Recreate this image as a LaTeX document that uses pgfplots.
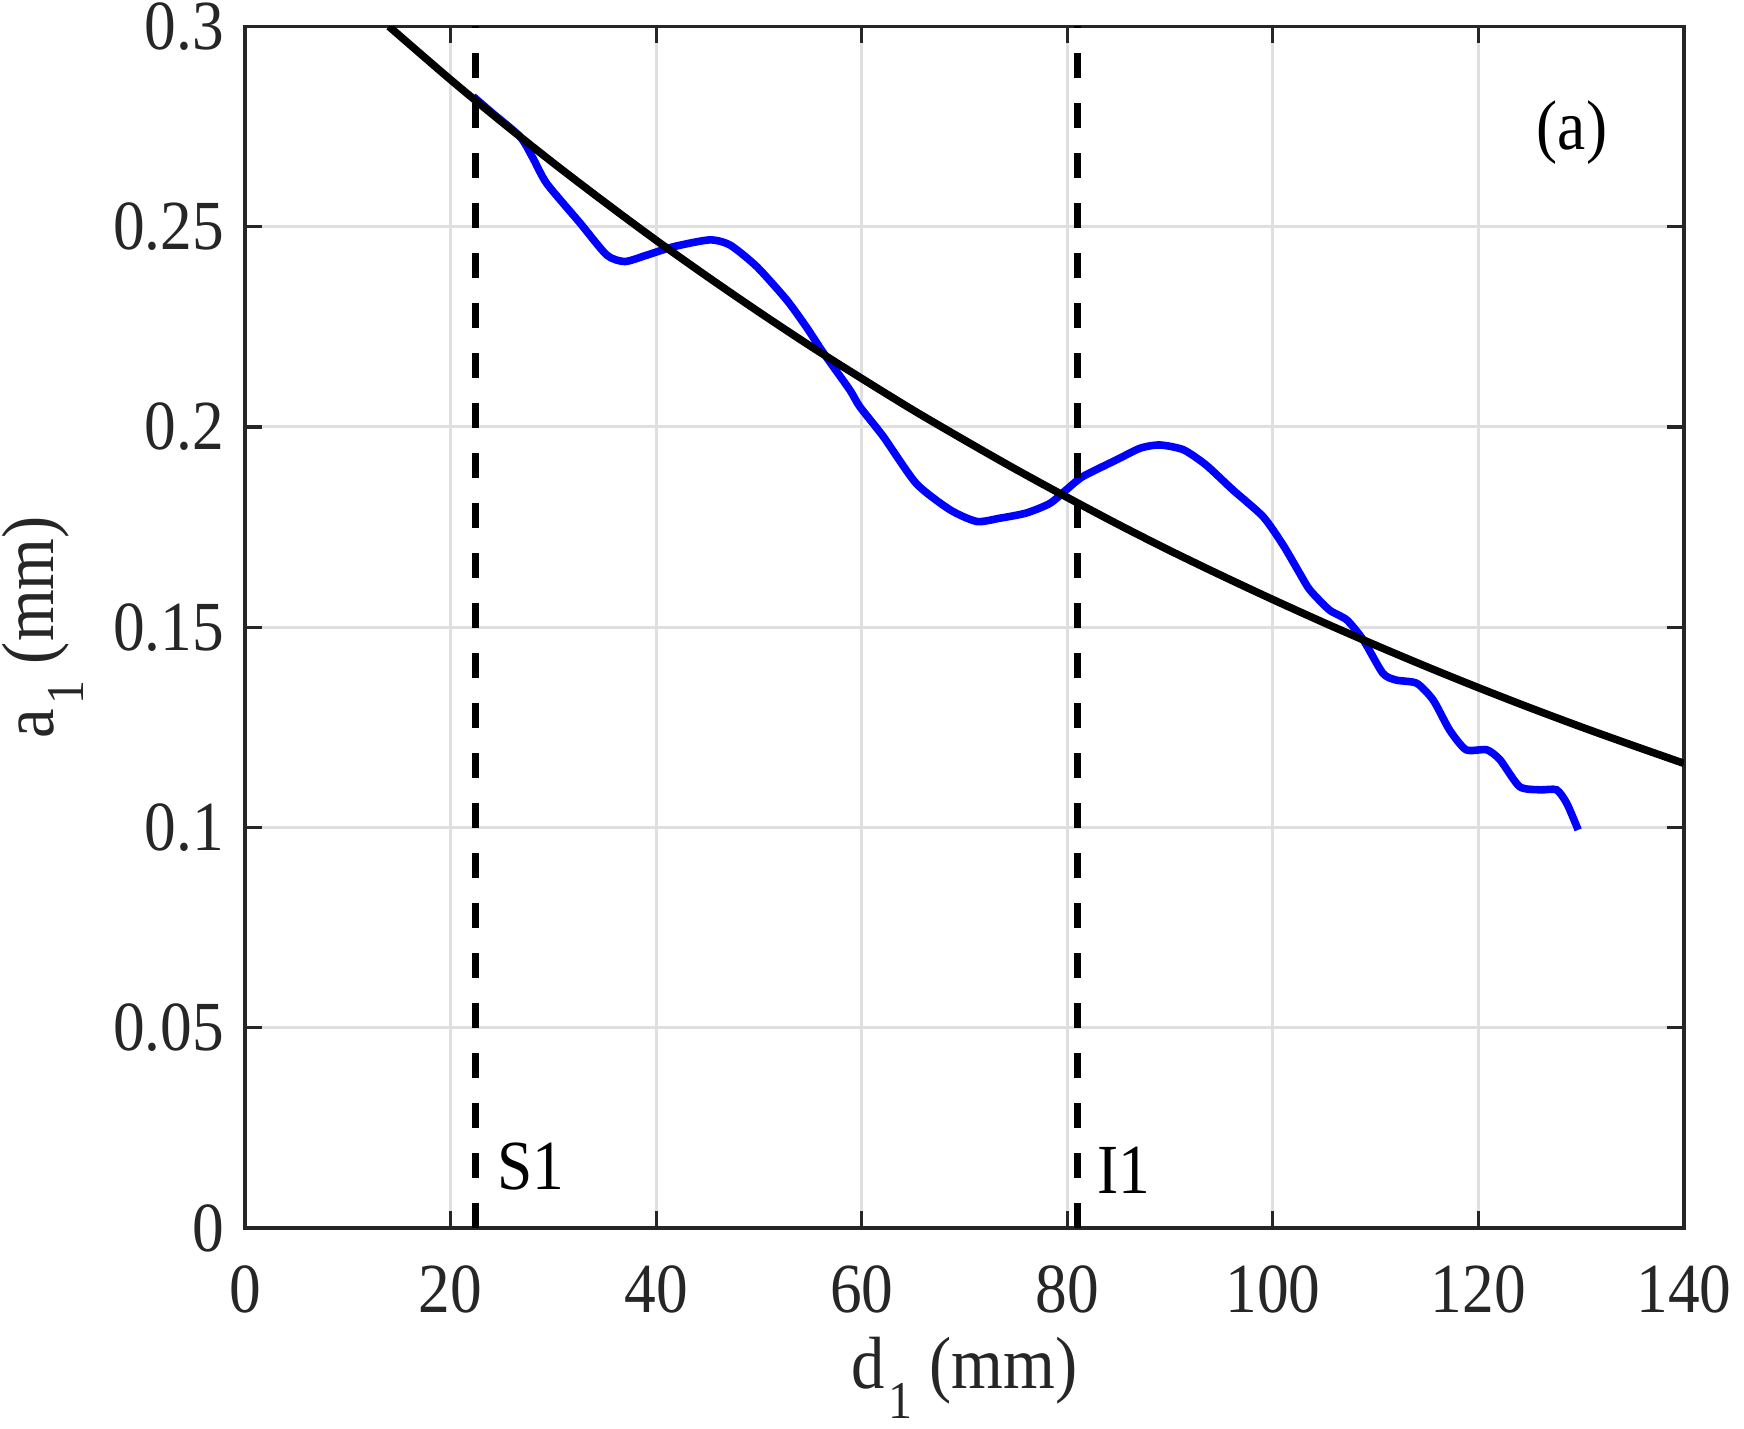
\documentclass[border=0pt]{standalone}
\usepackage{fontspec}
\setmainfont{Liberation Serif}[FakeStretch=0.9]
\usepackage{pgfplots}
\pgfplotsset{compat=1.18}

\definecolor{axgray}{RGB}{38,38,38}
\definecolor{gridgray}{RGB}{223,223,223}

% grid below the curves, axis lines and ticks above them
\pgfplotsset{
  layers/gridbelow/.define layer set={
    axis background,axis grid,main,axis ticks,axis lines,
    axis tick labels,axis descriptions,axis foreground}{},
}

% measured amplitude along the path
\pgfplotstableread{
x y
22.2 0.2825
24.0 0.2785
26.75 0.2725
28.0 0.2672
29.35 0.2608
32.6 0.2509
35.2 0.2429
36.96 0.2413
39.1 0.2429
41.7 0.2450
45.2 0.2467
47.2 0.2454
49.8 0.2400
52.7 0.2317
54.6 0.2250
56.3 0.2184
58.85 0.2092
59.8 0.2051
62.1 0.1976
65.3 0.1859
68.6 0.1793
71.2 0.1764
73.4 0.1772
76.0 0.1785
78.3 0.1809
79.9 0.1843
81.5 0.1876
84.8 0.1918
87.1 0.1947
89.0 0.1955
91.3 0.1943
93.5 0.1905
96.1 0.1843
99.05 0.1776
101.0 0.1705
102.6 0.1635
103.6 0.1593
105.5 0.1543
107.2 0.1518
108.8 0.1468
110.7 0.1385
112.0 0.1368
114.0 0.1360
115.6 0.1318
117.2 0.1243
118.8 0.1194
120.8 0.1194
122.1 0.1169
124.0 0.1102
126.0 0.1094
127.6 0.1094
128.6 0.1060
129.7 0.0994
}\measured

% attenuation fit
\pgfplotstableread{
x y
14 0.3000
20 0.2867
25 0.2761
30 0.2659
35 0.2561
40 0.2466
45 0.2375
50 0.2287
55 0.2202
60 0.2121
65 0.2042
70 0.1967
75 0.1894
80 0.1824
85 0.1756
90 0.1691
95 0.1629
100 0.1569
105 0.1511
110 0.1455
115 0.1401
120 0.1349
125 0.1299
130 0.1251
135 0.1205
140 0.1160
}\fitted

\begin{document}
\begin{tikzpicture}
\begin{axis}[
  set layers=gridbelow,
  scale only axis,
  width=359.75pt, height=300.4pt,
  xmin=0, xmax=140, ymin=0, ymax=0.3,
  xtick={0,20,40,60,80,100,120,140},
  ytick={0,0.05,0.1,0.15,0.2,0.25,0.3},
  yticklabels={0,0.05,0.1,0.15,0.2,0.25,0.3},
  scaled y ticks=false,
  xtick pos=both, ytick pos=both,
  tick align=inside,
  major tick length=4.2pt,
  grid=major,
  major grid style={draw=gridgray, line width=0.75pt},
  axis line style={draw=axgray, line width=0.8pt},
  every tick/.style={draw=axgray, line width=0.8pt},
  /pgf/number format/assume math mode=true,
  tick label style={font=\fontsize{17.6}{18}\selectfont, text=axgray},
  xticklabel style={anchor=north, inner sep=0pt, yshift=-9.25pt},
  yticklabel style={anchor=east, inner sep=0pt, xshift=-5pt},
  label style={font=\fontsize{18.5}{20}\selectfont, text=axgray, inner sep=0pt},
  xlabel={d\kern1pt\raisebox{-7.6pt}{\fontsize{13.3}{14}\selectfont 1} (mm)},
  ylabel={a\kern1pt\raisebox{-7.6pt}{\fontsize{13.3}{14}\selectfont 1} (mm)},
  xlabel style={at={(axis description cs:0.5,-0.1335)}, anchor=base},
  ylabel style={at={(axis description cs:-0.1334,0.5)}, anchor=base},
  clip=true,
]
\addplot[blue, line width=1.9pt, smooth, tension=0.4] table {\measured};
\addplot[black, line width=1.7pt, dash pattern=on 6.25pt off 6.25pt] coordinates {(22.4,0) (22.4,0.3)};
\addplot[black, line width=1.7pt, dash pattern=on 6.25pt off 6.25pt] coordinates {(81.0,0) (81.0,0.3)};
\addplot[black, line width=1.9pt, smooth] table {\fitted};
\node[anchor=base west, inner sep=0pt, font=\fontsize{17.6}{18}\selectfont] at (axis cs:24.5,0.0095) {S1};
\node[anchor=base west, inner sep=0pt, font=\fontsize{17.6}{18}\selectfont] at (axis cs:82.85,0.0087) {I1};
\node[anchor=base, inner sep=0pt, font=\fontsize{17.6}{18}\selectfont] at (axis cs:129.1,0.2692) {(a)};
\end{axis}
\pgfresetboundingbox
\path[use as bounding box] (-61.25pt,-50pt) rectangle (374.75pt,307pt);
\end{tikzpicture}
\end{document}
